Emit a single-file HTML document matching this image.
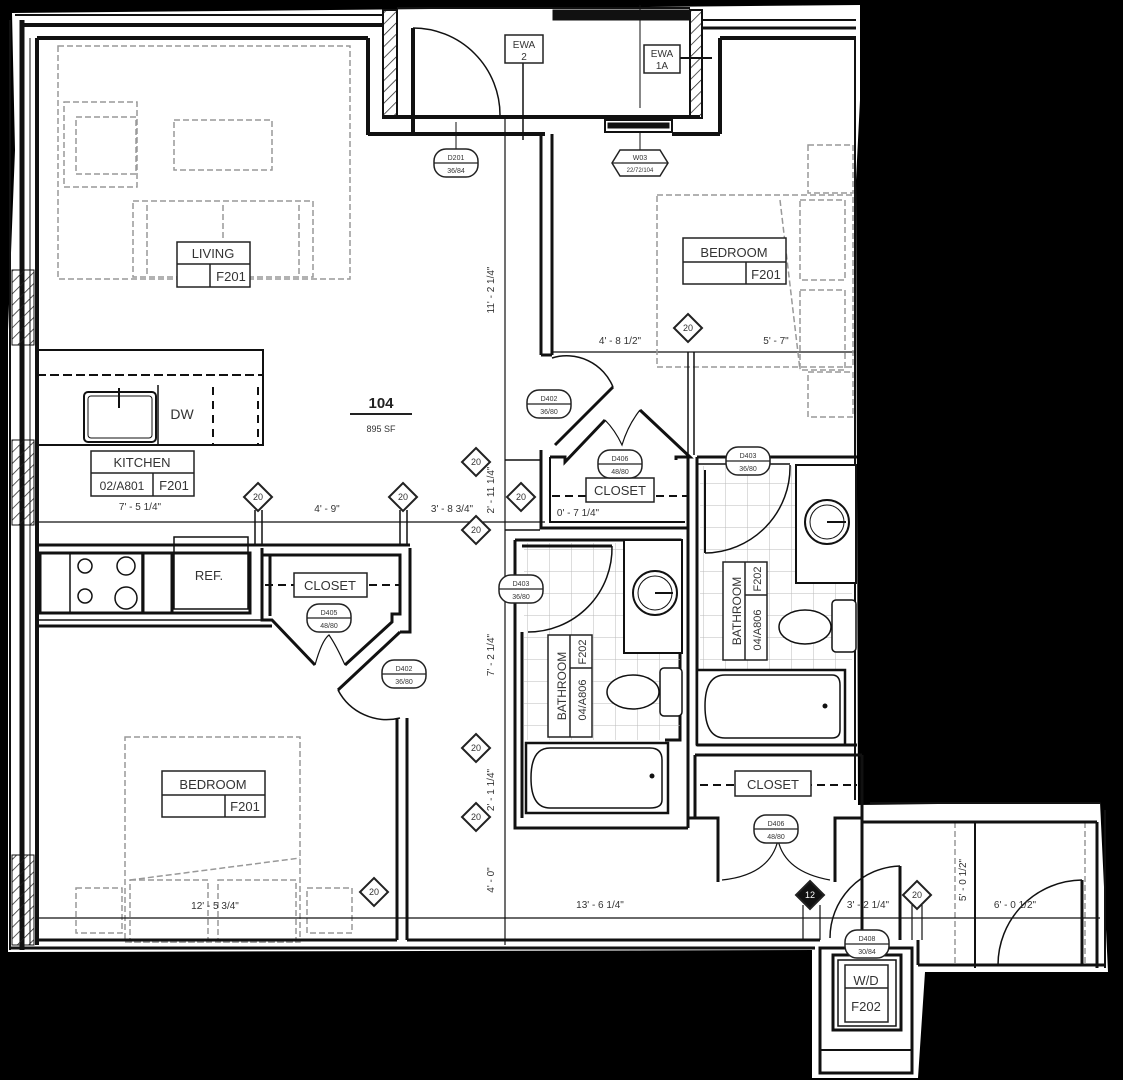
<!DOCTYPE html>
<html><head><meta charset="utf-8"><style>
html,body{margin:0;padding:0;background:#000;}
svg{display:block;}
text{font-family:"Liberation Sans",sans-serif;fill:#333;}
</style></head><body>
<svg width="1123" height="1080" viewBox="0 0 1123 1080" xmlns="http://www.w3.org/2000/svg">
<defs>
<pattern id="tile" width="22" height="22" patternUnits="userSpaceOnUse">
<path d="M22 0V22M0 22H22" stroke="#bbb" stroke-width="1" fill="none"/>
</pattern>
<pattern id="hatch" width="8" height="8" patternUnits="userSpaceOnUse" patternTransform="rotate(45)">
<line x1="0" y1="0" x2="0" y2="8" stroke="#222" stroke-width="1.5"/>
</pattern>
</defs>
<rect width="1123" height="1080" fill="#000"/>
<!-- white plan area -->
<path d="M12 13 L860 5 L860 100 L856 180 L858 805 L1100 802 L1108 972 L925 972 L918 1078 L812 1078 L812 950 L8 952 L8 330 L15 150 Z" fill="#fff"/>

<g fill="none" stroke="#111">
<!-- left outer wall -->
<line x1="10" y1="20" x2="10" y2="950" stroke-width="2"/>
<line x1="22" y1="20" x2="22" y2="950" stroke-width="5"/>
<line x1="37" y1="38" x2="37" y2="945" stroke-width="4"/>
<line x1="30" y1="38" x2="30" y2="945" stroke-width="1"/>
<rect x="12" y="270" width="22" height="75" fill="url(#hatch)" stroke-width="1"/>
<rect x="12" y="440" width="22" height="85" fill="url(#hatch)" stroke-width="1"/>
<rect x="12" y="855" width="22" height="90" fill="url(#hatch)" stroke-width="1"/>
<!-- top wall -->
<line x1="15" y1="15" x2="383" y2="15" stroke-width="2"/>
<line x1="20" y1="25" x2="383" y2="25" stroke-width="4"/>
<line x1="37" y1="38" x2="368" y2="38" stroke-width="4"/>
<line x1="368" y1="38" x2="368" y2="135" stroke-width="4"/>
<line x1="368" y1="134" x2="545" y2="134" stroke-width="4"/>
<!-- alcove -->
<rect x="383" y="10" width="14" height="108" fill="url(#hatch)" stroke-width="2"/>
<rect x="690" y="10" width="12" height="108" fill="url(#hatch)" stroke-width="2"/>
<line x1="383" y1="117" x2="700" y2="117" stroke-width="4"/>
<line x1="397" y1="8" x2="690" y2="8" stroke-width="2"/>
<rect x="553" y="10" width="137" height="10" fill="#111" stroke-width="1"/>
<line x1="413" y1="28" x2="413" y2="134" stroke-width="4"/>
<path d="M413 28 A87 87 0 0 1 500 115" stroke-width="1.5"/>
<line x1="640" y1="5" x2="640" y2="108" stroke-width="1"/>
<line x1="523" y1="63" x2="523" y2="140" stroke-width="1.5"/>
<line x1="680" y1="58" x2="712" y2="58" stroke-width="2"/>
<rect x="605" y="120" width="67" height="12" stroke-width="2"/>
<rect x="608" y="123" width="61" height="5" fill="#111" stroke-width="1"/>
<line x1="622" y1="132" x2="640" y2="132" stroke-width="1"/>
<line x1="640" y1="132" x2="640" y2="150" stroke-width="1"/>
<line x1="456" y1="122" x2="456" y2="150" stroke-width="1"/>
<!-- bedroom top right walls -->
<line x1="672" y1="134" x2="720" y2="134" stroke-width="4"/>
<line x1="720" y1="134" x2="720" y2="38" stroke-width="4"/>
<line x1="720" y1="38" x2="856" y2="38" stroke-width="4"/>
<line x1="702" y1="20" x2="856" y2="20" stroke-width="2"/>
<line x1="702" y1="28" x2="856" y2="28" stroke-width="3"/>
<line x1="855" y1="38" x2="855" y2="800" stroke-width="2"/>
<!-- hall vertical dim line -->
<line x1="505" y1="118" x2="505" y2="945" stroke-width="1.2"/>
<line x1="541" y1="134" x2="541" y2="355" stroke-width="3"/>
<line x1="552" y1="134" x2="552" y2="355" stroke-width="3"/>
<line x1="541" y1="355" x2="552" y2="355" stroke-width="3"/>
<line x1="552" y1="352" x2="856" y2="352" stroke-width="1.2"/>
<!-- bedroom door D402 top -->
<path d="M552 358 A50 50 0 0 1 613 387" stroke-width="1.5"/>
<line x1="613" y1="387" x2="555" y2="445" stroke-width="3"/>
<!-- living furniture dashed -->
<g stroke="#999" stroke-width="1.5" stroke-dasharray="6 3">
<rect x="58" y="46" width="292" height="233"/>
<rect x="64" y="102" width="73" height="85"/>
<rect x="76" y="117" width="60" height="57"/>
<rect x="174" y="120" width="98" height="50"/>
<rect x="133" y="201" width="180" height="76"/>
<line x1="147" y1="205" x2="147" y2="275"/>
<line x1="299" y1="205" x2="299" y2="275"/>
<line x1="223" y1="205" x2="223" y2="240"/>
<!-- top bedroom -->
<rect x="657" y="195" width="196" height="172"/>
<rect x="808" y="145" width="45" height="48"/>
<rect x="800" y="200" width="45" height="80"/>
<rect x="800" y="290" width="45" height="80"/>
<rect x="808" y="372" width="45" height="45"/>
<line x1="780" y1="200" x2="800" y2="370"/>
<!-- bottom bedroom -->
<rect x="125" y="737" width="175" height="205"/>
<rect x="130" y="880" width="78" height="62"/>
<rect x="218" y="880" width="78" height="62"/>
<rect x="76" y="888" width="46" height="45"/>
<rect x="307" y="888" width="45" height="45"/>
<line x1="130" y1="880" x2="300" y2="858"/>
<!-- right extension -->
<line x1="955" y1="822" x2="955" y2="966"/>
<line x1="1085" y1="822" x2="1085" y2="966"/>
</g>
<!-- kitchen upper counter -->
<rect x="37" y="350" width="226" height="95" stroke-width="2"/>
<line x1="37" y1="375" x2="263" y2="375" stroke-width="2" stroke-dasharray="9 4"/>
<rect x="84" y="392" width="72" height="50" rx="4" stroke-width="2"/>
<rect x="88" y="396" width="64" height="42" rx="3" stroke-width="1"/>
<line x1="119" y1="388" x2="119" y2="408" stroke-width="2"/>
<line x1="158" y1="385" x2="158" y2="445" stroke-width="1.5"/>
<line x1="213" y1="387" x2="213" y2="445" stroke-width="2" stroke-dasharray="8 6"/>
<line x1="258" y1="387" x2="258" y2="445" stroke-width="2" stroke-dasharray="8 6"/>
<!-- dimension line y=520 -->
<line x1="37" y1="522" x2="545" y2="522" stroke-width="1.2"/>
<line x1="255" y1="510" x2="255" y2="545" stroke-width="1.5"/>
<line x1="262" y1="510" x2="262" y2="545" stroke-width="1.5"/>
<line x1="400" y1="510" x2="400" y2="545" stroke-width="1.5"/>
<line x1="407" y1="510" x2="407" y2="545" stroke-width="1.5"/>
<!-- lower kitchen -->
<line x1="37" y1="545" x2="410" y2="545" stroke-width="3"/>
<rect x="40" y="553" width="210" height="60" stroke-width="3"/>
<rect x="70" y="553" width="72" height="60" stroke-width="1.5"/>
<line x1="143" y1="553" x2="143" y2="613" stroke-width="3"/>
<line x1="172" y1="553" x2="172" y2="613" stroke-width="3"/>
<circle cx="85" cy="566" r="7" stroke-width="1.5"/>
<circle cx="126" cy="566" r="9" stroke-width="1.5"/>
<circle cx="85" cy="596" r="7" stroke-width="1.5"/>
<circle cx="126" cy="598" r="11" stroke-width="1.5"/>
<rect x="174" y="537" width="74" height="72" stroke-width="1.5"/>
<line x1="37" y1="620" x2="272" y2="620" stroke-width="1.5"/>
<line x1="37" y1="626" x2="272" y2="626" stroke-width="3"/>
<!-- left closet -->
<path d="M262 548 L262 620 L272 620 L315 665" stroke-width="3"/>
<path d="M410 548 L410 632 L400 632" stroke-width="3"/>
<path d="M263 555 L400 555 L400 614 L392 614 L392 622 L345 665" stroke-width="3"/>
<line x1="270" y1="556" x2="270" y2="616" stroke-width="3"/>
<line x1="265" y1="585" x2="400" y2="585" stroke-width="2" stroke-dasharray="8 5"/>
<path d="M315 665 Q322 640 329 635 Q336 645 345 665" stroke-width="1.2"/>
<!-- bedroom door D402 bottom -->
<line x1="400" y1="632" x2="338" y2="690" stroke-width="3"/>
<path d="M338 690 A55 55 0 0 0 400 718" stroke-width="1.5"/>
<line x1="397" y1="718" x2="397" y2="940" stroke-width="3"/>
<line x1="407" y1="718" x2="407" y2="940" stroke-width="3"/>
<!-- bottom walls -->
<line x1="37" y1="918" x2="820" y2="918" stroke-width="1.2"/>
<line x1="37" y1="940" x2="397" y2="940" stroke-width="3"/>
<line x1="407" y1="940" x2="820" y2="940" stroke-width="3"/>
<line x1="10" y1="948" x2="815" y2="948" stroke-width="3"/>
<!-- middle closet -->
<path d="M541 450 L541 528 L688 528" stroke-width="3"/>
<path d="M550 457 L550 522 L685 522" stroke-width="2"/>
<line x1="552" y1="496" x2="688" y2="496" stroke-width="2" stroke-dasharray="8 5"/>
<path d="M550 457 L565 457 L565 462 L605 420" stroke-width="3"/>
<path d="M676 460 L676 457 L690 457 L640 410" stroke-width="3"/>
<path d="M605 420 Q615 430 622 445 Q628 425 640 410" stroke-width="1.2"/>
<line x1="505" y1="460" x2="540" y2="460" stroke-width="1.5"/>
<line x1="505" y1="530" x2="540" y2="530" stroke-width="1.5"/>
<!-- bath walls -->
<line x1="688" y1="457" x2="688" y2="828" stroke-width="3"/>
<line x1="697" y1="457" x2="697" y2="745" stroke-width="3"/>
<line x1="697" y1="457" x2="857" y2="457" stroke-width="3"/>
<line x1="697" y1="464" x2="790" y2="464" stroke-width="1.5"/>
<path d="M515 540 L515 828 L688 828" stroke-width="3"/>
<path d="M522 540 L680 540 L680 740 L665 740" stroke-width="3"/>
<line x1="522" y1="632" x2="522" y2="818" stroke-width="3"/>
<line x1="515" y1="540" x2="545" y2="540" stroke-width="3"/>
</g>
<!-- tiles -->
<rect x="524" y="543" width="156" height="197" fill="url(#tile)"/>
<rect x="700" y="466" width="152" height="208" fill="url(#tile)"/>
<g fill="#fff" stroke="#111">
<!-- left bath fixtures -->
<rect x="624" y="540" width="58" height="113" stroke-width="2"/>
<circle cx="655" cy="593" r="22" stroke-width="2"/>
<circle cx="655" cy="593" r="17" stroke-width="1"/>
<line x1="655" y1="593" x2="673" y2="593" stroke-width="2"/>
<rect x="660" y="668" width="22" height="48" rx="4" stroke-width="1.5"/>
<ellipse cx="633" cy="692" rx="26" ry="17" stroke-width="1.5"/>
<rect x="526" y="743" width="142" height="70" stroke-width="2.5"/>
<path d="M550 748 L650 748 Q662 748 662 760 L662 800 Q662 808 650 808 L550 808 Q531 808 531 778 Q531 748 550 748 Z" stroke-width="1.5"/>
<!-- right bath fixtures -->
<rect x="796" y="465" width="60" height="118" stroke-width="2"/>
<circle cx="827" cy="522" r="22" stroke-width="2"/>
<circle cx="827" cy="522" r="17" stroke-width="1"/>
<line x1="827" y1="522" x2="846" y2="522" stroke-width="2"/>
<rect x="832" y="600" width="24" height="52" rx="4" stroke-width="1.5"/>
<ellipse cx="805" cy="627" rx="26" ry="17" stroke-width="1.5"/>
<rect x="697" y="670" width="148" height="75" stroke-width="2.5"/>
<path d="M725 675 L832 675 Q840 675 840 685 L840 730 Q840 738 832 738 L725 738 Q705 738 705 706 Q705 675 725 675 Z" stroke-width="1.5"/>
</g>
<circle cx="652" cy="776" r="2.5" fill="#111"/>
<circle cx="825" cy="706" r="2.5" fill="#111"/>
<g fill="none" stroke="#111">
<path d="M612 546 A84 84 0 0 1 528 632" stroke-width="1.5"/>
<line x1="522" y1="546" x2="612" y2="546" stroke-width="3"/>
<path d="M790 465 A86 86 0 0 1 705 553" stroke-width="1.5"/>
<line x1="705" y1="470" x2="705" y2="553" stroke-width="2"/>
<line x1="697" y1="745" x2="857" y2="745" stroke-width="3"/>
<!-- lower right closet -->
<path d="M695 755 L695 818 L718 818 L718 882" stroke-width="3"/>
<path d="M862 755 L862 818 L835 818 L835 882" stroke-width="3"/>
<line x1="695" y1="755" x2="862" y2="755" stroke-width="3"/>
<line x1="700" y1="785" x2="857" y2="785" stroke-width="2" stroke-dasharray="8 5"/>
<path d="M722 880 Q770 875 778 840 Q785 872 830 880" stroke-width="1.2"/>
<line x1="718" y1="818" x2="688" y2="818" stroke-width="3"/>
<!-- right extension -->
<line x1="870" y1="803" x2="1100" y2="803" stroke-width="2"/>
<line x1="862" y1="822" x2="1097" y2="822" stroke-width="3"/>
<line x1="1097" y1="822" x2="1097" y2="968" stroke-width="3"/>
<line x1="1105" y1="810" x2="1105" y2="968" stroke-width="2"/>
<line x1="862" y1="805" x2="862" y2="940" stroke-width="3"/>
<line x1="975" y1="822" x2="975" y2="968" stroke-width="2"/>
<line x1="918" y1="965" x2="1105" y2="965" stroke-width="3"/>
<line x1="918" y1="940" x2="918" y2="965" stroke-width="3"/>
<line x1="820" y1="918" x2="1100" y2="918" stroke-width="1.2"/>
<path d="M1082 880 A85 85 0 0 0 998 965" stroke-width="1.5"/>
<line x1="1082" y1="880" x2="1082" y2="965" stroke-width="3"/>
<line x1="900" y1="866" x2="900" y2="940" stroke-width="3"/>
<path d="M900 866 A72 72 0 0 0 830 938" stroke-width="1.5"/>
<line x1="803" y1="905" x2="803" y2="940" stroke-width="1.2"/>
<line x1="820" y1="905" x2="820" y2="940" stroke-width="1.2"/>
<line x1="912" y1="905" x2="912" y2="940" stroke-width="1.2"/>
<line x1="922" y1="905" x2="922" y2="940" stroke-width="1.2"/>
<line x1="688" y1="352" x2="688" y2="455" stroke-width="1.5"/>
<line x1="694" y1="352" x2="694" y2="455" stroke-width="1.5"/>
<!-- W/D -->
<rect x="820" y="948" width="92" height="125" stroke-width="3"/>
<rect x="833" y="955" width="68" height="75" stroke-width="3"/>
<rect x="838" y="960" width="58" height="66" stroke-width="1.5"/>
<line x1="820" y1="1050" x2="912" y2="1050" stroke-width="2"/>
</g>

<!-- tags -->
<g fill="#fff" stroke="#222" stroke-width="1.5">
<rect x="177" y="242" width="73" height="45"/>
<line x1="177" y1="264" x2="250" y2="264"/>
<line x1="210" y1="264" x2="210" y2="287"/>
<rect x="91" y="451" width="103" height="45"/>
<line x1="91" y1="473" x2="194" y2="473"/>
<line x1="153" y1="473" x2="153" y2="496"/>
<rect x="683" y="238" width="103" height="46"/>
<line x1="683" y1="262" x2="786" y2="262"/>
<line x1="746" y1="262" x2="746" y2="284"/>
<rect x="162" y="771" width="103" height="46"/>
<line x1="162" y1="795" x2="265" y2="795"/>
<line x1="225" y1="795" x2="225" y2="817"/>
<rect x="505" y="35" width="38" height="28"/>
<rect x="644" y="45" width="36" height="28"/>
<rect x="294" y="573" width="73" height="24"/>
<rect x="586" y="478" width="68" height="24"/>
<rect x="735" y="771" width="76" height="25"/>
<rect x="548" y="635" width="44" height="102"/>
<line x1="570" y1="635" x2="570" y2="737"/>
<line x1="548" y1="678" x2="570" y2="678" stroke="none"/>
<line x1="570" y1="668" x2="592" y2="668"/>
<rect x="723" y="562" width="44" height="98"/>
<line x1="745" y1="562" x2="745" y2="660"/>
<line x1="745" y1="595" x2="767" y2="595"/>
<rect x="845" y="965" width="43" height="57"/>
<line x1="845" y1="988" x2="888" y2="988"/>
<!-- door tags -->
<rect x="434" y="149" width="44" height="28" rx="12"/>
<rect x="527" y="390" width="44" height="28" rx="12"/>
<rect x="598" y="450" width="44" height="28" rx="12"/>
<rect x="726" y="447" width="44" height="28" rx="12"/>
<rect x="499" y="575" width="44" height="28" rx="12"/>
<rect x="307" y="604" width="44" height="28" rx="12"/>
<rect x="382" y="660" width="44" height="28" rx="12"/>
<rect x="754" y="815" width="44" height="28" rx="12"/>
<rect x="845" y="930" width="44" height="28" rx="12"/>
<path d="M620 150 L660 150 L668 163 L660 176 L620 176 L612 163 Z"/>
</g>
<g stroke="#222" stroke-width="1.2">
<line x1="434" y1="163" x2="478" y2="163"/><line x1="527" y1="404" x2="571" y2="404"/>
<line x1="598" y1="464" x2="642" y2="464"/><line x1="726" y1="461" x2="770" y2="461"/>
<line x1="499" y1="589" x2="543" y2="589"/><line x1="307" y1="618" x2="351" y2="618"/>
<line x1="382" y1="674" x2="426" y2="674"/><line x1="754" y1="829" x2="798" y2="829"/>
<line x1="845" y1="944" x2="889" y2="944"/><line x1="612" y1="163" x2="668" y2="163"/>
</g>
<!-- diamonds -->
<g fill="#fff" stroke="#222" stroke-width="2">
<path d="M258 483 L272 497 L258 511 L244 497 Z"/>
<path d="M403 483 L417 497 L403 511 L389 497 Z"/>
<path d="M476 448 L490 462 L476 476 L462 462 Z"/>
<path d="M521 483 L535 497 L521 511 L507 497 Z"/>
<path d="M476 516 L490 530 L476 544 L462 530 Z"/>
<path d="M688 314 L702 328 L688 342 L674 328 Z"/>
<path d="M476 734 L490 748 L476 762 L462 748 Z"/>
<path d="M476 803 L490 817 L476 831 L462 817 Z"/>
<path d="M374 878 L388 892 L374 906 L360 892 Z"/>
<path d="M917 881 L931 895 L917 909 L903 895 Z"/>
<path d="M810 881 L824 895 L810 909 L796 895 Z" fill="#111"/>
</g>
<g font-size="9" text-anchor="middle">
<text x="258" y="500">20</text><text x="403" y="500">20</text><text x="476" y="465">20</text>
<text x="521" y="500">20</text><text x="476" y="533">20</text><text x="688" y="331">20</text>
<text x="476" y="751">20</text><text x="476" y="820">20</text><text x="374" y="895">20</text>
<text x="917" y="898">20</text><text x="810" y="898" style="fill:#fff">12</text>
</g>
<!-- labels -->
<g text-anchor="middle" font-size="13">
<text x="213" y="258">LIVING</text><text x="231" y="281">F201</text>
<text x="142" y="467">KITCHEN</text><text x="122" y="490" font-size="12">02/A801</text><text x="174" y="490">F201</text>
<text x="734" y="257">BEDROOM</text><text x="766" y="279">F201</text>
<text x="213" y="789">BEDROOM</text><text x="245" y="811">F201</text>
<text x="330" y="590">CLOSET</text><text x="620" y="495">CLOSET</text><text x="773" y="789">CLOSET</text>
<text x="209" y="580">REF.</text><text x="182" y="419" font-size="14">DW</text>
<text x="866" y="985">W/D</text><text x="866" y="1011">F202</text>
<text x="381" y="408" font-size="15" font-weight="bold" style="fill:#222">104</text>
<text x="381" y="432" font-size="9">895 SF</text>
<text x="524" y="48" font-size="10">EWA</text><text x="524" y="60" font-size="10">2</text>
<text x="662" y="57" font-size="10">EWA</text><text x="662" y="69" font-size="10">1A</text>
</g>
<line x1="350" y1="414" x2="412" y2="414" stroke="#222" stroke-width="2"/>
<g font-size="12" text-anchor="middle">
<text transform="translate(566 686) rotate(-90)">BATHROOM</text>
<text transform="translate(586 700) rotate(-90)" font-size="11">04/A806</text>
<text transform="translate(586 652) rotate(-90)" font-size="11">F202</text>
<text transform="translate(741 611) rotate(-90)">BATHROOM</text>
<text transform="translate(761 630) rotate(-90)" font-size="11">04/A806</text>
<text transform="translate(761 579) rotate(-90)" font-size="11">F202</text>
</g>
<g font-size="7" text-anchor="middle">
<text x="456" y="160">D201</text><text x="456" y="173">36/84</text>
<text x="549" y="401">D402</text><text x="549" y="414">36/80</text>
<text x="620" y="461">D406</text><text x="620" y="474">48/80</text>
<text x="748" y="458">D403</text><text x="748" y="471">36/80</text>
<text x="521" y="586">D403</text><text x="521" y="599">36/80</text>
<text x="329" y="615">D405</text><text x="329" y="628">48/80</text>
<text x="404" y="671">D402</text><text x="404" y="684">36/80</text>
<text x="776" y="826">D406</text><text x="776" y="839">48/80</text>
<text x="867" y="941">D408</text><text x="867" y="954">30/84</text>
<text x="640" y="160">W03</text><text x="640" y="172" font-size="6">22/72/104</text>
</g>
<g font-size="10" text-anchor="middle">
<text x="140" y="510">7' - 5 1/4"</text><text x="327" y="512">4' - 9"</text>
<text x="452" y="512">3' - 8 3/4"</text><text x="578" y="516">0' - 7 1/4"</text>
<text x="620" y="344">4' - 8 1/2"</text><text x="776" y="344">5' - 7"</text>
<text x="215" y="909">12' - 5 3/4"</text><text x="600" y="908">13' - 6 1/4"</text>
<text x="868" y="908">3' - 2 1/4"</text><text x="1015" y="908">6' - 0 1/2"</text>
<text transform="translate(494 290) rotate(-90)">11' - 2 1/4"</text>
<text transform="translate(494 490) rotate(-90)">2' - 11 1/4"</text>
<text transform="translate(494 655) rotate(-90)">7' - 2 1/4"</text>
<text transform="translate(494 790) rotate(-90)">2' - 1 1/4"</text>
<text transform="translate(494 880) rotate(-90)">4' - 0"</text>
<text transform="translate(966 880) rotate(-90)">5' - 0 1/2"</text>
</g>
</svg>
</body></html>
